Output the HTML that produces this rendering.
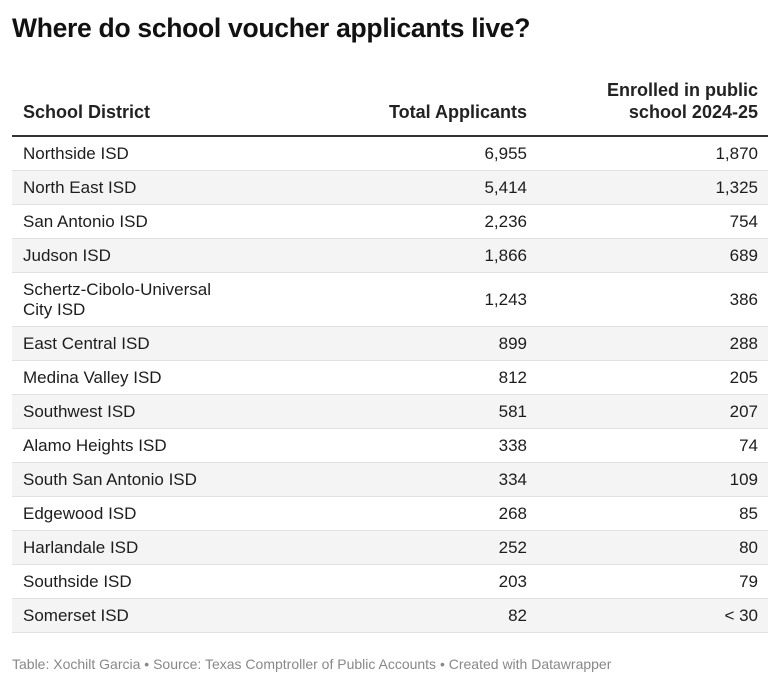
<!DOCTYPE html>
<html><head><meta charset="utf-8"><style>
body{margin:0;width:780px;height:686px;background:#fff;font-family:"Liberation Sans",sans-serif;color:#1d1d1d;position:relative;overflow:hidden}
h1{position:absolute;left:12px;top:13px;margin:0;font-size:26.5px;font-weight:bold;color:#111;letter-spacing:-0.3px}
table{position:absolute;left:12px;top:79px;width:756px;border-collapse:collapse;font-size:17px}
th{font-weight:bold;font-size:18px;vertical-align:bottom;padding:0 10px 12px 11px;line-height:22px;border-bottom:2px solid #333;color:#222}
td{padding:0 10px 0 11px;height:33px;border-bottom:1px solid #e2e2e2;line-height:20px}
tr.tall td{height:53px}
tbody tr:nth-child(even) td{background:#f4f4f4}
.r{text-align:right}
.foot{position:absolute;left:12px;top:656px;font-size:14px;color:#888}
</style></head><body>
<h1>Where do school voucher applicants live?</h1>
<table>
<thead><tr>
<th style="text-align:left;width:300px">School District</th>
<th class="r">Total Applicants</th>
<th class="r" style="width:210px">Enrolled in public<br>school 2024-25</th>
</tr></thead>
<tbody id="tb"></tbody>
</table>
<div class="foot">Table: Xochilt Garcia • Source: Texas Comptroller of Public Accounts • Created with Datawrapper</div>
<script>
const districts=["Northside ISD","North East ISD","San Antonio ISD","Judson ISD","Schertz-Cibolo-Universal<br>City ISD","East Central ISD","Medina Valley ISD","Southwest ISD","Alamo Heights ISD","South San Antonio ISD","Edgewood ISD","Harlandale ISD","Southside ISD","Somerset ISD"];
const totals=["6,955","5,414","2,236","1,866","1,243","899","812","581","338","334","268","252","203","82"];
const enrolled=["1,870","1,325","754","689","386","288","205","207","74","109","85","80","79","< 30"];
const tb=document.getElementById('tb');
districts.forEach((d,i)=>{
const tr=document.createElement('tr');


if(d.includes('<br>'))tr.className='tall';
const a=document.createElement('td');a.innerHTML=d;


const b=document.createElement('td');b.className='r';b.textContent=totals[i];


const c=document.createElement('td');c.className='r';c.textContent=enrolled[i];


tr.append(a,b,c);tb.appendChild(tr);
});
</script>
</body></html>
